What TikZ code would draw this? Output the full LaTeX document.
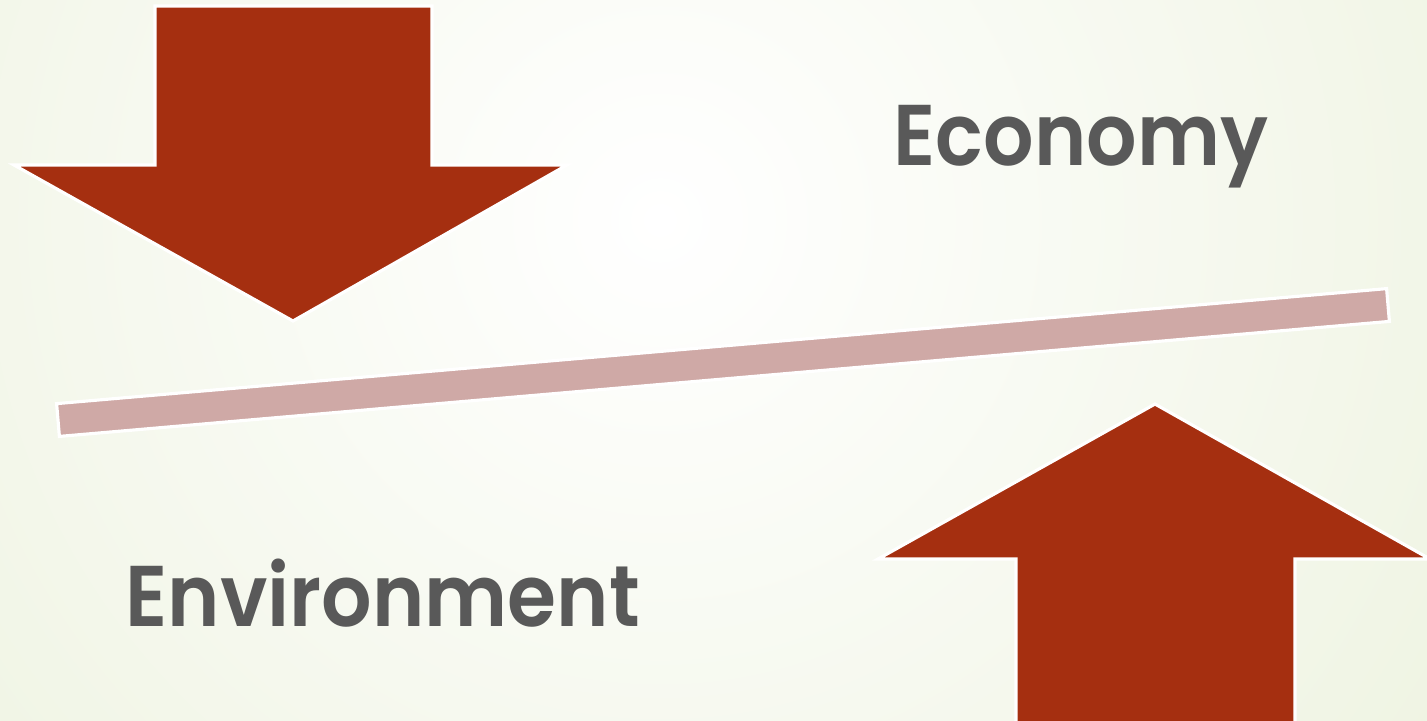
\documentclass[tikz,border=0pt]{standalone}
\usepackage{fontspec}
\setmainfont{Poppins}[BoldFont={Poppins SemiBold},BoldFeatures={FakeStretch=0.92}]
\definecolor{arrowred}{RGB}{165,47,16}
\definecolor{barpink}{RGB}{207,169,166}
\definecolor{textgray}{RGB}{89,89,89}
\definecolor{bggreen}{RGB}{232,239,214}
\begin{document}
\begin{tikzpicture}
  [x=0.01cm,y=-0.01cm,
   bigarrow/.style={fill=arrowred,draw=white,line width=0.9pt,line join=miter},
   beam/.style={fill=barpink,draw=white,line width=0.9pt},
   label/.style={text=textgray,font=\bfseries\fontsize{24.5}{28}\selectfont,inner sep=0pt}]
  % background
  \useasboundingbox (0,0) rectangle (1427,720);
  \begin{scope}
    \clip (0,0) rectangle (1427,720);
    \shade[inner color=white,outer color=bggreen] (660,220) circle (1350);
  \end{scope}
  % arrow pressing down
  \draw[bigarrow] (155,6) -- (432,6) -- (432,165) -- (567,165) -- (293,321)
    -- (14,165) -- (155,165) -- cycle;
  % arrow pushing up
  \draw[bigarrow] (1016,722) -- (1016,559) -- (878,559) -- (1155,404)
    -- (1430,559) -- (1295,559) -- (1295,722);
  % tilted beam
  \draw[beam] (56.6,403.6) -- (1386.6,288.6) -- (1389.4,321.4) -- (59.4,436.4) -- cycle;
  % labels
  \node[label,anchor=base west] (econ) at (893,165) {Economy};
  \node[label,anchor=base west] (env) at (125,626) {Environment};
\end{tikzpicture}
\end{document}
